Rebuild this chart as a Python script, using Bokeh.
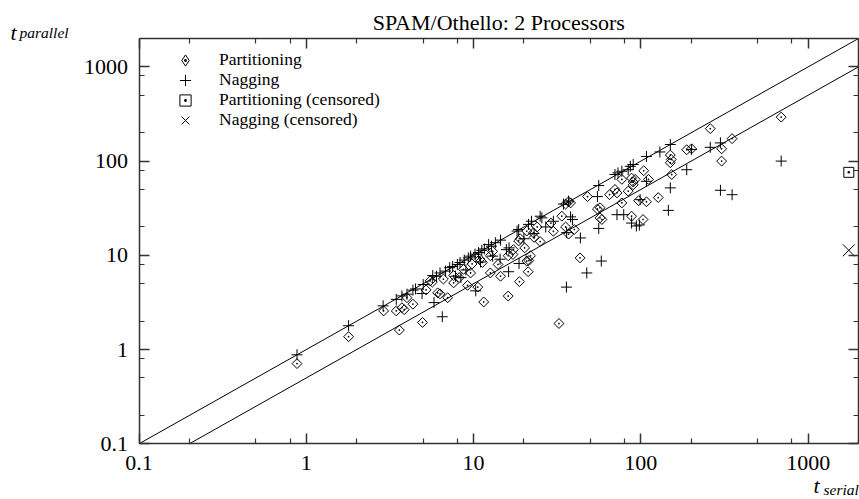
from bokeh.plotting import figure
from bokeh.models import (FixedTicker, LogAxis, CustomJSTickFormatter, Label,
                          Legend, LegendItem, Range1d)
from bokeh.embed import file_html
from bokeh.resources import INLINE
import math

# ---------------- data ----------------
part_x = [0.88, 1.79, 2.9, 3.45, 3.6, 3.73, 3.85, 4.0, 4.34, 4.95, 5.2, 5.5, 5.67, 6.1,
          6.3, 6.6, 7.0, 7.6, 7.6, 8.2, 8.7, 9.2, 9.6, 9.8, 10.2, 10.6, 10.9, 11.3, 11.5,
          12.6, 12.6, 13.0, 14.0, 14.5, 16.1, 16.1, 17.2, 17.3, 18.6, 18.8, 19.0, 20.2,
          20.8, 20.8, 21.2, 21.4, 21.9, 22.8, 23.0, 24.0, 25.0, 29.0, 30.0, 32.4, 33.7,
          35.5, 35.5, 37.0, 37.0, 38.0, 40.0, 43.3, 48.0, 55.0, 57.0, 57.0, 58.5, 65.0,
          70.0, 72.0, 77.0, 77.0, 84.0, 88.0, 88.0, 90.0, 90.0, 92.5, 97.0, 103.0, 104.0,
          108.0, 111.0, 127.0, 150.0, 152.0, 150.0, 153.0, 188.0, 201.0, 260.0, 304.0,
          304.0, 351.0, 690.0]
part_y = [0.71, 1.37, 2.57, 2.57, 1.61, 2.78, 2.65, 3.55, 3.03, 1.94, 4.3, 5.35, 5.2, 4.0,
          3.9, 5.6, 3.55, 5.1, 6.1, 5.8, 7.1, 4.8, 6.5, 8.1, 9.6, 4.6, 9.1, 8.4, 3.2,
          6.5, 9.9, 11.0, 8.0, 6.0, 3.7, 9.9, 10.2, 11.5, 14.2, 5.26, 15.0, 12.0,
          18.1, 8.7, 6.7, 8.8, 9.9, 17.3, 15.5, 20.0, 14.0, 22.0, 18.0, 1.89, 26.0,
          35.0, 20.0, 16.8, 37.0, 36.0, 18.8, 9.4, 42.0, 31.0, 32.0, 25.0, 24.0, 44.0,
          50.0, 46.0, 64.0, 36.0, 48.0, 26.0, 66.0, 56.0, 60.0, 64.0, 38.0, 24.0, 79.0,
          37.0, 64.0, 41.0, 116.0, 104.0, 96.0, 72.0, 132.0, 135.0, 221.0, 135.0,
          100.0, 173.0, 293.0]

nag_x = [0.88, 1.79, 2.88, 3.45, 3.73, 4.0, 4.34, 4.5, 4.92, 5.0, 5.7, 5.8, 6.0, 6.3, 6.5,
         6.8, 7.2, 7.5, 7.8, 8.0, 8.3, 8.4, 8.8, 9.0, 9.3, 9.6, 10.2, 10.3, 10.7, 11.0,
         11.2, 11.6, 12.3, 12.8, 13.0, 13.5, 14.4, 14.5, 15.7, 16.2, 16.3, 18.2, 18.7,
         18.6, 20.0, 21.3, 22.2, 23.0, 25.0, 25.6, 27.0, 30.0, 34.5, 35.9, 36.0, 37.0,
         38.0, 39.0, 43.5, 47.5, 56.0, 55.0, 56.0, 58.0, 70.0, 72.0, 73.0, 77.0, 79.0,
         84.0, 86.5, 88.0, 90.0, 94.0, 98.0, 99.0, 108.0, 108.0, 130.0, 146.0, 150.0,
         150.0, 188.0, 201.0, 260.0, 299.0, 299.0, 351.0, 690.0]
nag_y = [0.88, 1.79, 2.91, 3.41, 3.71, 3.87, 4.27, 4.4, 3.93, 4.9, 6.1, 3.15, 6.0, 6.5, 2.23,
         6.8, 7.4, 7.6, 6.0, 8.0, 8.4, 5.8, 8.9, 7.0, 9.4, 9.8, 10.3, 4.2, 10.7, 8.5,
         11.3, 11.7, 13.0, 12.5, 9.8, 13.6, 9.1, 14.5, 11.5, 6.7, 12.0, 18.1, 8.2,
         18.8, 15.0, 21.3, 23.0, 17.0, 26.0, 25.0, 20.0, 23.0, 35.0, 4.6, 17.4, 37.6,
         25.6, 24.0, 15.3, 6.5, 55.0, 42.0, 19.3, 8.7, 72.0, 27.0, 75.0, 78.0, 27.0,
         81.0, 88.0, 22.0, 92.0, 20.5, 21.0, 39.0, 112.0, 61.0, 125.0, 30.0, 150.0,
         52.0, 81.0, 133.0, 140.0, 156.0, 49.0, 44.0, 100.0]

part_cens_x = [1750.0]
part_cens_y = [76.0]
nag_cens_x = [1750.0]
nag_cens_y = [11.3]

equal_x = [0.1, 2000.0]
equal_y = [0.1, 2000.0]
half_x = [0.2, 2000.0]
half_y = [0.1, 1000.0]

axis_min, axis_max = 0.1, 2000.0
major_ticks = [0.1, 1, 10, 100, 1000]
minor_ticks = [0.2, 0.5, 0.8, 2, 5, 8, 20, 50, 80, 200, 500, 800, 2000]

title_text = "SPAM/Othello: 2 Processors"
legend_labels = ["Partitioning", "Nagging", "Partitioning (censored)", "Nagging (censored)"]

# ---------------- layout (pixel box of the axes inside the canvas) ----------------
W, H = 859, 499
FL, FR, FT, FB = 138.5, 858.0, 38.0, 443.3
FONT = "Liberation Serif"
AX = "#333333"

span = math.log10(axis_max / axis_min)
x_dec = (FR - FL) / span
y_dec = (FB - FT) / span
x_start = 10 ** (math.log10(axis_min) - FL / x_dec)
x_end = 10 ** (math.log10(axis_max) + (W - FR) / x_dec)
y_start = 10 ** (math.log10(axis_min) - (H - FB) / y_dec)
y_end = 10 ** (math.log10(axis_max) + FT / y_dec)

p = figure(width=W, height=H, x_axis_type="log", y_axis_type="log",
           x_range=Range1d(x_start, x_end), y_range=Range1d(y_start, y_end),
           output_backend="svg", toolbar_location=None, min_border=0)
p.title.visible = False
p.grid.visible = False
p.outline_line_color = None
p.background_fill_color = "white"
p.border_fill_color = "white"

fmt = CustomJSTickFormatter(code="return tick < 1 ? tick.toFixed(1) : tick.toFixed(0);")


def style_axis(ax, loc, show_labels, standoff):
    ax.fixed_location = loc
    ax.bounds = (axis_min, axis_max)
    ax.ticker = FixedTicker(ticks=major_ticks, minor_ticks=minor_ticks)
    ax.formatter = fmt
    ax.axis_line_color = AX
    ax.axis_line_width = 1.5
    ax.major_tick_line_color = AX
    ax.minor_tick_line_color = AX
    ax.major_tick_line_width = 1.5
    ax.minor_tick_line_width = 1.2
    ax.major_tick_in = 10
    ax.major_tick_out = 0
    ax.minor_tick_in = 5
    ax.minor_tick_out = 0
    if show_labels:
        ax.major_label_text_font = FONT
        ax.major_label_text_font_size = "22px"
        ax.major_label_text_color = "black"
        ax.major_label_standoff = standoff
    else:
        ax.major_label_text_color = None
        ax.major_label_standoff = 0


style_axis(p.xaxis[0], axis_min, True, 12)
style_axis(p.yaxis[0], axis_min, True, 11)
top_ax = LogAxis()
right_ax = LogAxis()
style_axis(top_ax, axis_max, False, 0)
style_axis(right_ax, axis_max, False, 0)
p.add_layout(top_ax, "above")
p.add_layout(right_ax, "right")

# reference lines y = x and y = x/2
p.line(equal_x, equal_y, line_color="black", line_width=1)
p.line(half_x, half_y, line_color="black", line_width=1)

r_part = p.scatter(part_x, part_y, marker="square_dot", size=7, angle=math.pi / 4,
                   fill_color=None, line_color="black", line_width=1)
r_nag = p.scatter(nag_x, nag_y, marker="cross", size=11, line_color="black", line_width=1)
r_pc = p.scatter(part_cens_x, part_cens_y, marker="square_dot", size=10,
                 fill_color=None, line_color="black", line_width=1)
r_nc = p.scatter(nag_cens_x, nag_cens_y, marker="x", size=17, line_color="black", line_width=1)

# hidden renderer of the same series, used only to draw a diamond key in the legend
r_part_key = p.scatter(part_x, part_y, marker="diamond_dot", size=7,
                       fill_color=None, line_color="black", line_width=1, visible=False)

# one single-row legend per entry, so that rows are 20 px apart with large keys
key_renderers = [r_part_key, r_nag, r_pc, r_nc]
KEY = 28
KEY_X = 185          # canvas x of the key centres
TEXT_X = 219         # canvas x where the legend texts start
row_centres = [59.5, 79.5, 99.5, 119.5]   # canvas pixels from the top
for lab, rend, cy in zip(legend_labels, key_renderers, row_centres):
    lg = Legend(items=[LegendItem(label=lab, renderers=[rend])],
                location=(KEY_X - KEY // 2, H - cy - KEY / 2),
                padding=0, margin=0, spacing=0,
                glyph_width=KEY, glyph_height=KEY, label_height=KEY,
                label_standoff=TEXT_X - (KEY_X + KEY // 2),
                label_text_font=FONT, label_text_font_size="17.5px",
                label_text_color="black",
                inactive_fill_alpha=0,
                border_line_color=None, background_fill_alpha=0)
    p.add_layout(lg)

# title and axis labels as text (positions in canvas pixels, y measured from the bottom)
p.add_layout(Label(x=(FL + FR) / 2, y=H - 22, x_units="screen", y_units="screen",
                   text=title_text, text_align="center", text_baseline="alphabetic",
                   text_font=FONT, text_font_size="22px", text_color="black"))
p.add_layout(Label(x=10, y=H - 32, x_units="screen", y_units="screen",
                   text="t", text_align="left", text_baseline="alphabetic",
                   text_font=FONT, text_font_style="italic", text_font_size="22px",
                   text_color="black"))
p.add_layout(Label(x=19, y=H - 32, x_units="screen", y_units="screen",
                   text="parallel", text_align="left", text_baseline="alphabetic",
                   text_font=FONT, text_font_style="italic", text_font_size="15.5px",
                   text_color="black"))
p.add_layout(Label(x=813, y=H - 485, x_units="screen", y_units="screen",
                   text="t", text_align="left", text_baseline="alphabetic",
                   text_font=FONT, text_font_style="italic", text_font_size="22px",
                   text_color="black"))
p.add_layout(Label(x=823, y=H - 489, x_units="screen", y_units="screen",
                   text="serial", text_align="left", text_baseline="alphabetic",
                   text_font=FONT, text_font_style="italic", text_font_size="15.5px",
                   text_color="black"))

open("out.html", "w").write(file_html(p, INLINE))
